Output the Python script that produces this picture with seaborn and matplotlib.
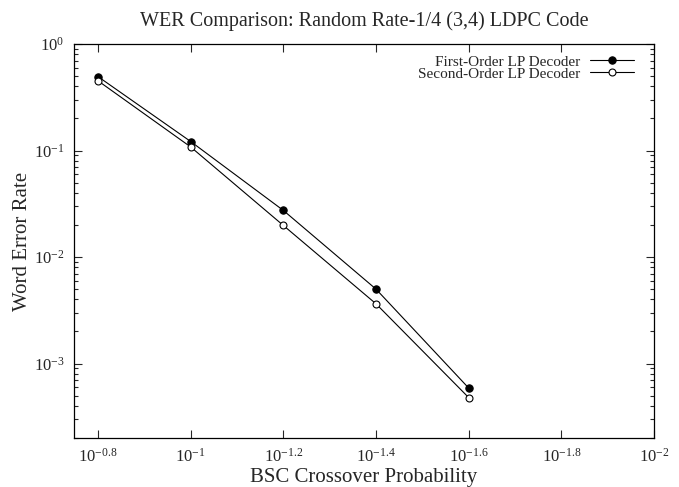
import matplotlib
matplotlib.use("Agg")
import matplotlib.pyplot as plt
import numpy as np
import pandas as pd
import seaborn as sns
from matplotlib import ticker

# data
crossover = [10 ** -0.8, 10 ** -1.0, 10 ** -1.2, 10 ** -1.4, 10 ** -1.6]
wer_first = [0.494, 0.1215, 0.0274, 0.0050, 5.9e-4]
wer_second = [0.451, 0.108, 0.0198, 3.64e-3, 4.8e-4]
series_names = ["First-Order LP Decoder", "Second-Order LP Decoder"]
xtick_exps = [-0.8, -1, -1.2, -1.4, -1.6, -1.8, -2]
xtick_labels = ["-0.8", "-1", "-1.2", "-1.4", "-1.6", "-1.8", "-2"]

sns.set_style("ticks")
plt.rcParams["font.family"] = ["Liberation Serif", "DejaVu Serif"]
plt.rcParams["mathtext.fontset"] = "custom"
plt.rcParams["mathtext.rm"] = "Liberation Serif"
plt.rcParams["mathtext.it"] = "Liberation Serif:italic"

df = pd.DataFrame({
    "p": crossover * 2,
    "wer": wer_first + wer_second,
    "Decoder": [series_names[0]] * len(crossover) + [series_names[1]] * len(crossover),
})

fig = plt.figure(figsize=(6.79, 4.87), dpi=100)
ax = fig.add_axes([0.109, 0.1006, 0.854, 0.809])

sns.lineplot(data=df[df["Decoder"] == series_names[0]], x="p", y="wer",
             color="black", marker="o", markersize=5.3, linewidth=0.8,
             markerfacecolor="black", markeredgecolor="black",
             label=series_names[0], ax=ax)
sns.lineplot(data=df[df["Decoder"] == series_names[1]], x="p", y="wer",
             color="black", marker="o", markersize=5, linewidth=0.8,
             markerfacecolor="white", markeredgecolor="black", markeredgewidth=0.8,
             label=series_names[1], ax=ax)

ax.set_xscale("log")
ax.set_yscale("log")
ax.set_xlim(10 ** -0.748, 10 ** -2)
ax.set_ylim(2e-4, 1)

ax.xaxis.set_major_locator(ticker.FixedLocator([10 ** e for e in xtick_exps]))
ax.xaxis.set_major_formatter(ticker.FixedFormatter([r"$10^{%s}$" % s for s in xtick_labels]))
ax.xaxis.set_minor_locator(ticker.NullLocator())
ax.yaxis.set_major_locator(ticker.LogLocator(base=10, numticks=10))
ax.yaxis.set_major_formatter(ticker.FuncFormatter(lambda v, pos: r"$10^{%d}$" % round(np.log10(v))))
ax.yaxis.set_minor_locator(ticker.LogLocator(base=10, subs=np.arange(2, 10), numticks=20))
ax.yaxis.set_minor_formatter(ticker.NullFormatter())

ax.tick_params(which="both", direction="in", top=True, right=True, labelsize=12, width=0.8)
ax.tick_params(which="major", length=6, pad=7)
ax.tick_params(which="minor", length=3)
for s in ax.spines.values():
    s.set_linewidth(0.9)
    s.set_color("black")

ax.set_xlabel("BSC Crossover Probability", fontsize=15, labelpad=2)
ax.set_ylabel("Word Error Rate", fontsize=15, labelpad=1)
ax.set_title("WER Comparison: Random Rate-1/4 (3,4) LDPC Code", fontsize=14.5, pad=13)

ax.legend(loc="upper right", bbox_to_anchor=(1, 1.023), frameon=False,
          markerfirst=False, fontsize=11, handlelength=2.9, handletextpad=0.6,
          labelspacing=-0.1, borderaxespad=0.9)

fig.savefig("out.png", dpi=100)
